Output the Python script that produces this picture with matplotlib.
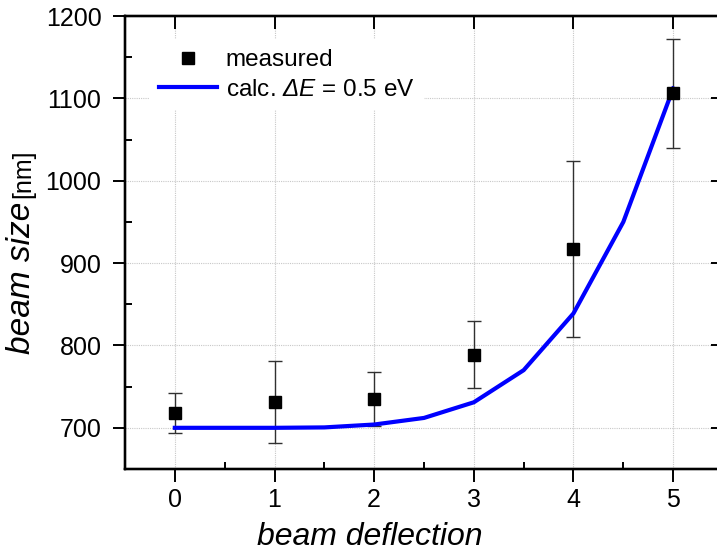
import numpy as np
import matplotlib
matplotlib.use("Agg")
import matplotlib.pyplot as plt
from matplotlib.lines import Line2D

plt.rcParams.update({
    "font.family": "Liberation Sans",
    "mathtext.fontset": "custom",
    "mathtext.it": "Liberation Sans:italic",
    "mathtext.rm": "Liberation Sans:italic",  # keeps the Delta italic
})

# measured beam size vs deflection
x_meas = [0, 1, 2, 3, 4, 5]
y_meas = [718, 731, 735, 789, 917, 1106]
y_err = [24, 50, 33, 41, 107, 66]

# calculated curve, dE = 0.5 eV
x_calc = [0, 0.5, 1, 1.5, 2, 2.5, 3, 3.5, 4, 4.5, 5]
y_calc = [700, 700, 700, 700.5, 704, 712, 731, 770, 839, 950, 1112]

fig = plt.figure(figsize=(7.17, 5.53), dpi=100)
ax = fig.add_axes([125/717, 1 - 469/553, (723 - 125)/717, (469 - 16)/553])

ax.grid(True, color="#c8c8c8", ls=(0, (1, 1)), lw=0.8, zorder=0)
ax.plot(x_calc, y_calc, color="#0000ff", lw=3, zorder=4)
ax.errorbar(x_meas, y_meas, yerr=y_err, fmt="none", ecolor="#303030",
            elinewidth=1.0, capsize=5, capthick=1.0, zorder=3)
ax.plot(x_meas, y_meas, ls="none", marker="s", ms=8, color="black", zorder=5)

ax.set_xlim(-0.5, 5.5)
ax.set_ylim(670, 1200)
ax.set_xticks(range(6))
ax.set_xticks(np.arange(-0.5, 5.6, 0.5), minor=True)
ax.set_yticks(range(700, 1201, 100))
ax.set_yticks(range(650, 1201, 50), minor=True)

for s in ax.spines.values():
    s.set_linewidth(1.6)

ax.tick_params(which="major", direction="out", length=9, width=1.4,
               labelsize=18, top=False, right=False)
ax.tick_params(which="minor", direction="in", length=5, width=1.4,
               top=True, right=True)
ax.tick_params(axis="y", which="major", pad=8)
ax.tick_params(axis="x", which="major", pad=5)
# top/right major ticks point inwards
ax2 = ax.twinx()
ax2.set_ylim(ax.get_ylim())
ax2.set_yticks(range(700, 1201, 100))
ax2.tick_params(direction="in", length=9, width=1.4, labelright=False)
ax3 = ax.twiny()
ax3.set_xlim(ax.get_xlim())
ax3.set_xticks(range(6))
ax3.tick_params(direction="in", length=9, width=1.4, labeltop=False)
for a in (ax2, ax3):
    for s in a.spines.values():
        s.set_linewidth(1.6)

handles = [Line2D([], [], ls="none", marker="s", ms=8, color="black"),
           Line2D([], [], color="#0000ff", lw=3)]
leg = ax3.legend(handles, ["measured", r"calc. $ΔE$ = 0.5 eV"],
                 loc="upper left", bbox_to_anchor=(0.02, 0.975),
                 fontsize=17.5, handlelength=2.4, handletextpad=0.35,
                 labelspacing=0.3, borderpad=0.4, frameon=True,
                 fancybox=False, edgecolor="none", facecolor="white",
                 framealpha=1)

fig.text(370/717, 1 - 545/553, "beam deflection", fontsize=23,
         style="italic", ha="center", va="baseline")
fig.text(22/717, 1 - 354/553, "beam size", fontsize=24, style="italic",
         rotation=90, ha="center", va="bottom")
fig.text(23/717, 1 - 150/553, "[nm]", fontsize=18, rotation=90,
         ha="center", va="top")

fig.savefig("out.png", dpi=100)
